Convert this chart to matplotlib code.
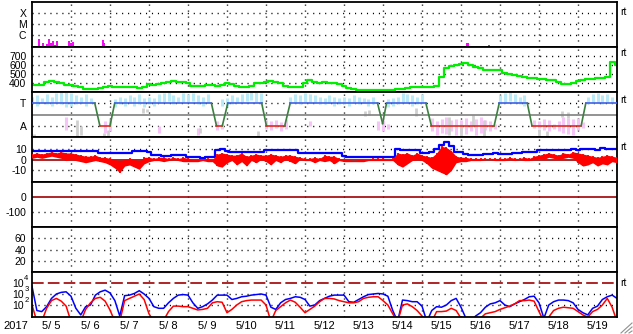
import matplotlib
matplotlib.use("Agg")
import matplotlib.pyplot as plt
import numpy as np

plt.rcParams["font.family"] = ["Liberation Sans", "DejaVu Sans"]
plt.rcParams["font.size"] = 7.5

# ---- data (days since 5/5 00:00, 8 samples per day unless noted) ----
day_labels = ["5/ 5", "5/ 6", "5/ 7", "5/ 8", "5/ 9", "5/10", "5/11", "5/12",
              "5/13", "5/14", "5/15", "5/16", "5/17", "5/18", "5/19"]
year_label = "2017"

# x-ray flares (day, log10 flux W/m2)
xray_days = [0.06, 0.19, 0.29, 0.39, 0.44, 0.49, 0.55, 0.59, 0.65, 0.955, 1.0,
             1.04, 1.4, 1.485, 1.53, 1.81, 1.84, 11.15, 11.17, 11.72]
xray_log = [-6.97, -6.36, -6.73, -6.82, -6.36, -6.73, -6.54, -6.9, -6.54, -6.54,
            -6.73, -6.63, -6.97, -6.97, -6.97, -6.45, -6.73, -6.7, -6.73, -6.88]

# solar wind speed (km/s)
speed = [
    378, 380, 382, 412, 418, 415, 395, 380,
    375, 370, 350, 335, 330, 338, 342, 358,
    368, 360, 352, 350, 355, 350, 348, 352,
    385, 378, 385, 400, 410, 418, 412, 416,
    398, 372, 370, 372, 378, 374, 372, 382,
    395, 388, 362, 352, 352, 362, 395, 405,
    412, 420, 408, 400, 365, 352, 354, 358,
    395, 433, 415, 404, 408, 404, 400, 385,
    362, 345, 328, 322, 320, 322, 320, 321,
    321, 322, 325, 330, 335, 348, 352, 350,
    352, 350, 355, 365, 470, 565, 585, 600,
    610, 625, 600, 580, 570, 548, 545, 548,
    540, 515, 500, 490, 475, 468, 460, 455,
    448, 440, 436, 430, 410, 392, 388, 400,
    425, 435, 440, 442, 450, 458, 470, 630,
    605]

# IMF sector model (T = 1, A = -1)
sector_days = [0, 1.61, 1.74, 2.0, 2.12, 4.6, 4.73, 4.88, 5.02, 5.89, 6.01, 6.48,
               6.62, 8.86, 8.99, 9.09, 10.1, 10.24, 11.85, 11.98, 12.7, 12.82,
               14.08, 14.2, 15]
sector_vals = [1, 1, -1, -1, 1, 1, -1, -1, 1, 1, -1, -1,
               1, 1, -0.8, 1, 1, -1, -1, 1, 1, -1, -1, 1, 1]

nan = np.nan
toward_hi = [
    1.6, 1.7, 1.5, 1.8, 1.6, 1.9, 2.0, 2.0,
    1.9, 1.7, 1.6, 1.8, 1.5, nan, nan, nan,
    nan, 1.4, 1.6, 1.5, 1.7, 1.6, 1.8, 1.5,
    1.6, 1.5, 1.8, 1.9, 2.0, 1.7, 1.6, 1.9,
    1.8, 1.9, 1.7, 1.6, 1.8, nan, nan, 1.4,
    1.5, 1.7, 1.6, 1.8, 1.9, 2.0, 2.0, 1.9,
    nan, nan, nan, nan, nan, 1.6, 1.8, 1.7,
    1.9, 1.8, 1.7, 1.6, 1.5, 1.7, 1.6, 1.5,
    1.6, 1.5, 1.7, 1.6, 1.5, 1.4, 1.6, nan,
    nan, 1.4, 1.5, 1.6, 1.9, 1.8, 1.7, 1.6,
    1.8, nan, nan, nan, nan, nan, nan, nan,
    nan, nan, nan, nan, nan, nan, nan, nan,
    1.7, 1.9, 2.0, 1.8, 1.6, 1.7, nan, nan,
    nan, nan, nan, nan, nan, nan, nan, nan,
    nan, nan, 1.6, 1.8, 1.9, 1.7, 1.8, 1.6,
    nan]
toward_lo = [
    0.9, 0.8, 1.0, 0.9, 0.8, 1.0, 0.9, 0.7,
    0.8, 0.9, 1.0, 0.8, 1.0, nan, nan, nan,
    nan, 0.7, 0.9, 0.8, 1.0, 0.8, 0.9, 0.7,
    0.9, 0.8, 1.0, 1.1, 1.2, 0.9, 1.0, 1.1,
    1.1, 1.2, 0.9, 0.8, 1.0, nan, nan, 0.8,
    0.8, 0.9, 1.0, 1.1, 1.2, 1.3, 1.1, 1.0,
    nan, nan, nan, nan, nan, 0.9, 1.0, 0.9,
    1.1, 1.0, 1.0, 0.9, 0.9, 1.0, 0.8, 0.9,
    0.9, 0.8, 1.0, 0.9, 1.0, 0.8, 0.9, nan,
    nan, 0.7, 0.8, 0.9, 1.0, 1.1, 0.8, 0.9,
    1.0, nan, nan, nan, nan, nan, nan, nan,
    nan, nan, nan, nan, nan, nan, nan, nan,
    0.9, 1.0, 1.2, 1.0, 0.9, 0.8, nan, nan,
    nan, nan, nan, nan, nan, nan, nan, nan,
    nan, nan, 0.9, 1.0, 1.0, 0.9, 1.1, 1.0,
    nan]

away_days = [0.875, 1.875, 2.0, 3.25, 4.25, 4.75, 4.875, 6.0, 6.125, 6.25, 6.375,
             6.5, 7.125, 8.875, 9.0, 9.125, 10.25, 10.375, 10.5, 10.625, 10.75,
             10.875, 11.0, 11.125, 11.25, 11.375, 11.5, 11.625, 11.75, 11.875,
             12.875, 13.0, 13.125, 13.25, 13.375, 13.5, 13.625, 13.75, 13.875,
             14.0, 14.125]
away_hi = [-0.2, -0.6, -0.4, -1.0, -1.2, -0.6, -0.8, -0.5, -0.6, -0.5, -0.7,
           -0.4, -0.6, -0.6, -0.5, -0.8, -0.3, -0.6, -0.4, -0.2, -0.5,
           -0.4, -0.5, -0.3, -0.6, -0.4, -0.2, -0.5, -0.6, -0.8,
           -0.5, -0.6, -0.4, -0.5, -0.8, -0.6, -0.2, -0.3, -0.4,
           -0.3, -0.7]
away_lo = [-1.4, -1.6, -1.5, -1.6, -1.8, -1.4, -1.3, -1.3, -1.4, -1.2, -1.5,
           -1.3, -1.0, -1.4, -1.5, -1.3, -1.5, -1.8, -1.6, -1.7, -1.5,
           -1.8, -1.6, -1.7, -1.5, -1.8, -1.6, -1.4, -1.5, -1.3,
           -1.2, -1.2, -1.4, -1.5, -1.3, -1.5, -1.6, -1.7, -1.8,
           -1.4, -1.2]

grey_days = [0.05, 1.15, 1.25, 1.85, 1.95, 2.85, 2.95, 4.3, 5.8, 8.55, 8.65,
             9.85, 10.7, 11.0, 11.3, 11.6, 13.0, 13.2, 13.6, 13.75]
grey_hi = [-1.7, -0.5, -1.0, -1.6, -1.4, 0.6, 0.5, -1.2, -1.5, 0.3, 0.4,
           0.6, -0.2, -0.8, 0.0, -0.5, -1.3, -1.5, 0.3, 0.2]
grey_lo = [-1.9, -1.9, -1.8, -1.9, -1.9, 0.1, 0.2, -1.6, -1.9, -0.1, 0.0,
           -0.1, -1.8, -1.9, -1.0, -1.9, -1.9, -1.9, -0.2, -0.3]

# IMF Bt and Bz (nT)
bt = [
    7.5, 7.7, 7.5, 7.8, 8.0, 7.8, 7.5, 7.8,
    8.0, 8.2, 8.0, 7.8, 8.0, 7.5, 6.0, 5.5,
    5.5, 5.6, 5.8, 5.5, 5.6, 7.3, 7.5, 7.3,
    7.0, 4.0, 3.8, 3.5, 3.5, 4.0, 3.8, 4.0,
    2.5, 2.0, 2.0, 1.8, 2.0, 2.2, 8.5, 9.5,
    7.5, 7.0, 7.0, 7.2, 7.0, 7.0, 7.2, 7.0,
    8.5, 8.6, 8.8, 8.6, 8.5, 8.6, 8.4, 6.0,
    5.6, 5.5, 5.6, 5.8, 5.6, 5.5, 5.8, 5.6,
    3.0, 2.5, 2.5, 2.5, 2.4, 2.5, 2.6, 2.5,
    2.5, 2.5, 2.6, 9.5, 9.0, 8.6, 8.6, 8.8,
    5.6, 5.6, 7.0, 10.0, 13.0, 16.0, 12.0, 7.0,
    7.0, 5.0, 4.5, 4.2, 4.5, 4.8, 5.0, 5.5,
    5.0, 4.8, 5.2, 5.5, 5.6, 7.0, 7.2, 7.0,
    8.6, 8.5, 8.8, 8.6, 8.5, 9.0, 8.8, 9.5,
    9.0, 10.0, 9.5, 9.8, 9.0, 10.5, 9.8, 10.0,
    10.0]
bz_hi = [
    5, 6, 5, 6, 7, 6, 7, 6,
    6, 5, 4, 3, 3, 4, 2, 2,
    1, 0, -1, 0, 1, 0, -1, 2,
    2, 1, 2, 2, 1, 2, 1, 2,
    1, 0, 0, 0, 1, 0, 5, 6,
    5, 4, 4, 6, 3, 4, 5, 4,
    4, 5, 4, 3, 4, 4, 3, 2,
    1, 1, 2, 1, 4, 3, 3, 1,
    0, 0, -1, 0, 0, 0, 1, 1,
    1, 0, 1, 6, 5, 6, 4, 6,
    4, 3, 2, 6, 12, 11, 8, 3,
    2, 2, 1, 1, 1, 1, 1, 1,
    1, 1, 2, 1, 1, 2, 1, 3,
    4, 5, 6, 5, 4, 6, 5, 7,
    6, 5, 4, 3, 2, 3, 4, 3,
    2]
bz_lo = [
    1, 2, 1, 2, 3, 2, 1, -1,
    0, -1, -2, -3, -2, -1, -2, -3,
    -5, -8, -12, -6, -5, -7, -9, -4,
    -2, -1, -1, -2, -1, 0, -1, -2,
    -2, -2, -2, -1, -2, -2, -6, -7,
    -3, -1, -5, -2, -6, -1, -3, 0,
    -2, -5, -1, -3, 0, -2, -4, 0,
    -1, -1, -3, -1, -2, -1, -4, -1,
    -2, -2, -2, -2, -2, -1, -1, -1,
    -1, -1, -1, -5, -7, -4, -1, 0,
    -1, -4, -8, -10, -12, -14, -10, -3,
    -2, -2, -1, -1, -1, 0, 0, -1,
    -1, -1, 0, -1, 0, -1, -1, 0,
    1, 0, 2, 1, 0, 1, 2, 1,
    -3, -6, -5, -3, -6, -4, -5, -2,
    -3]

# electron flux, log10
e_blue = [
    3.7, 1.5, 1.4, 1.85, 2.6, 3.0, 3.15, 3.2,
    2.8, 1.7, 1.1, 1.85, 2.0, 2.9, 3.2, 3.35,
    3.1, 2.4, 1.0, 2.85, 2.9, 3.05, 3.3, 3.0,
    2.6, 1.85, 1.7, 1.7, 2.2, 2.6, 2.9, 2.95,
    2.9, 2.2, 1.7, 1.85, 2.1, 2.45, 2.9, 2.9,
    2.9, 2.5, 2.6, 2.75, 2.8, 2.9, 2.95, 3.0,
    2.9, 1.8, 1.6, 2.2, 2.5, 2.6, 2.75, 2.7,
    2.5, 1.9, 2.0, 2.4, 2.6, 2.8, 2.9, 2.9,
    2.9, 2.3, 2.25, 2.5, 2.75, 2.95, 3.0, 3.05,
    3.0, 2.8, 1.5, 0.5, 2.45, 2.4, 2.3, 2.3,
    1.9, 0.5, 1.5, 1.85, 1.8, 2.0, 2.4, 2.6,
    1.8, 0.8, 0.5, 1.0, 1.3, 1.8, 2.1, 2.2,
    2.4, 2.0, 1.85, 2.1, 2.3, 2.5, 2.75, 2.8,
    2.2, 0.8, 2.0, 2.3, 2.45, 2.45, 2.4, 2.2,
    1.6, 1.3, 1.1, 1.7, 1.9, 2.5, 2.75, 2.9,
    2.6]
e_red = [
    2.0, 0.5, 0.5, 1.7, 2.4, 2.6, 2.35, 1.9,
    0.5, 0.5, 0.5, 1.6, 2.2, 2.6, 2.7, 2.35,
    1.55, 0.5, 0.5, 2.4, 2.6, 2.8, 3.0, 2.5,
    1.2, 0.5, 0.5, 0.6, 1.4, 1.9, 1.9, 1.85,
    1.85, 1.7, 1.55, 1.6, 1.7, 2.2, 2.3, 2.25,
    1.3, 1.6, 2.0, 2.3, 2.4, 2.45, 2.45, 2.45,
    2.0, 0.5, 1.5, 1.85, 2.2, 2.45, 2.25, 1.8,
    1.3, 1.6, 1.9, 2.3, 2.6, 2.6, 2.55, 2.4,
    2.3, 2.2, 2.2, 2.3, 2.6, 2.7, 2.75, 2.75,
    2.4, 2.0, 1.2, 0.5, 2.0, 2.1, 1.85, 1.5,
    1.0, 0.5, 0.5, 1.4, 1.4, 1.45, 1.7, 1.5,
    0.8, 0.5, 0.5, 0.5, 0.8, 1.2, 1.3, 1.4,
    1.6, 1.75, 1.9, 2.1, 2.4, 2.4, 2.45, 2.35,
    1.4, 0.5, 0.9, 1.5, 1.7, 1.8, 1.75, 1.7,
    1.4, 1.1, 0.9, 1.4, 1.6, 2.0, 2.6, 1.8,
    0.5]

e_ticks = [4, 3, 2]

# ---- figure ----
W, H = 633, 334
fig = plt.figure(figsize=(W / 100, H / 100), dpi=100)
left_px, right_px, top_px, panel_px = 32, 617, 2, 45
n_days = len(day_labels)

dotted = (0, (0.8, 3.5))
dark_red = "#a00000"

axes = []
for i in range(7):
    y0 = 1 - (top_px + panel_px * (i + 1)) / H
    ax = fig.add_axes([left_px / W, y0, (right_px - left_px) / W, panel_px / H])
    ax.set_xlim(0, n_days)
    for s in ax.spines.values():
        s.set_linewidth(1.3)
    ax.tick_params(length=0, pad=4, labelsize=7.5)
    ax.set_xticks([])
    for d in range(1, n_days):
        ax.axvline(d, color="k", lw=1, ls=dotted, zorder=0.5)
    axes.append(ax)


def hgrid(ax, vals):
    for v in vals:
        ax.axhline(v, color="k", lw=1, ls=dotted, zorder=0.5)


def series_x(vals):
    return np.linspace(0, n_days, len(vals))


# 1: x-ray
ax = axes[0]
ax.set_yscale("log")
ax.set_ylim(10 ** -7.09, 1e-3)
hgrid(ax, [1e-4, 1e-5, 1e-6])
ax.set_yticks([1e-4, 1e-5, 1e-6], ["X", "M", "C"])
ax.minorticks_off()
ax.vlines(xray_days, 10 ** -7.09, 10 ** np.array(xray_log), color="#ff00ff", lw=1.4)

# 2: speed
ax = axes[1]
ax.set_ylim(300, 800)
hgrid(ax, [700, 600, 500, 400])
ax.set_yticks([700, 600, 500, 400], ["700", "600", "500", "400"])
ax.plot(series_x(speed), speed, color="#00ee00", lw=1.6, drawstyle="steps-mid")

# 3: sector
ax = axes[2]
ax.set_ylim(-2, 2)
hgrid(ax, [1, -1])
ax.set_yticks([1, -1], ["T", "A"])
tx = series_x(toward_hi)
th, tl = np.array(toward_hi), np.array(toward_lo)
m = ~np.isnan(th)
ax.vlines(tx[m], tl[m], th[m], color="#b8eaf8", lw=2.2, zorder=1)
ax.vlines(away_days, away_lo, away_hi, color="#f6c4f6", lw=2.2, zorder=1)
ax.vlines(grey_days, grey_lo, grey_hi, color="#d0d0d0", lw=2, zorder=1)
ax.axhline(0, color="#808080", lw=1.2, zorder=2)
for i in range(len(sector_days) - 1):
    v0, v1 = sector_vals[i], sector_vals[i + 1]
    if v0 == v1 == 1:
        c = "#4060e8"
    elif v0 == v1 == -1:
        c = "#e02818"
    else:
        c = "#3c8040"
    ax.plot(sector_days[i:i + 2], sector_vals[i:i + 2], color=c, lw=1.2, zorder=3)

# 4: Bt / Bz
ax = axes[3]
ax.set_ylim(-20.5, 20.5)
hgrid(ax, [10, -10])
ax.set_yticks([10, 0, -10], ["10", "0", "-10"])
ax.axhline(0, color=dark_red, lw=1.2, zorder=1)
ax.plot(series_x(bt), bt, color="#0000ff", lw=1.6, drawstyle="steps-mid", zorder=2)
zx = series_x(bz_hi)
ax.fill_between(zx, bz_lo, bz_hi, color="#ff0000", lw=0, zorder=3)
ax.vlines(zx, bz_lo, bz_hi, color="#ff0000", lw=1.3, zorder=3)

# 5: empty panel
ax = axes[4]
ax.set_ylim(-200, 100)
hgrid(ax, [-100])
ax.set_yticks([0, -100], ["0", "-100"])
ax.axhline(0, color=dark_red, lw=1.2)

# 6: empty panel
ax = axes[5]
ax.set_ylim(0, 80)
hgrid(ax, [60, 40, 20])
ax.set_yticks([60, 40, 20], ["60", "40", "20"])

# 7: electrons
ax = axes[6]
ax.set_yscale("log")
ax.set_ylim(10 ** 0.91, 1e5)
hgrid(ax, [1e3, 1e2])
ax.set_yticks([10.0 ** e for e in e_ticks], ["10"] * len(e_ticks))
ax.minorticks_off()
ax.tick_params(axis="y", pad=6)
for e in e_ticks:
    ax.annotate(str(e), xy=(0, 10.0 ** e), xycoords=ax.get_yaxis_transform(),
                xytext=(-5.6, 3.2), textcoords="offset points",
                ha="left", va="center", fontsize=5.5)
ax.axhline(1e4, color=dark_red, lw=1.2, ls=(0, (7, 2.5)))
ax.plot(series_x(e_blue), 10 ** np.array(e_blue), color="#0000ff", lw=1.1)
ax.plot(series_x(e_red), 10 ** np.array(e_red), color="#ff0000", lw=1.1)
ax.set_xticks(np.arange(n_days) + 0.5, day_labels)
ax.tick_params(axis="x", labelsize=8, pad=3)

fig.text(16 / W, 1 - 326 / H, year_label, ha="center", va="center", fontsize=8)

for y in [12, 53, 100, 147, 283]:
    fig.text(620 / W, 1 - y / H, "rt", ha="left", va="center", fontsize=7.5)

# resize grip in the corner
for k in range(3):
    o = 4 + 4 * k
    fig.add_artist(plt.Line2D([(W - o) / W, (W - 1) / W], [1 / H, (o - 1) / H],
                              color="#909090", lw=0.8))

fig.savefig("out.png", dpi=100)
